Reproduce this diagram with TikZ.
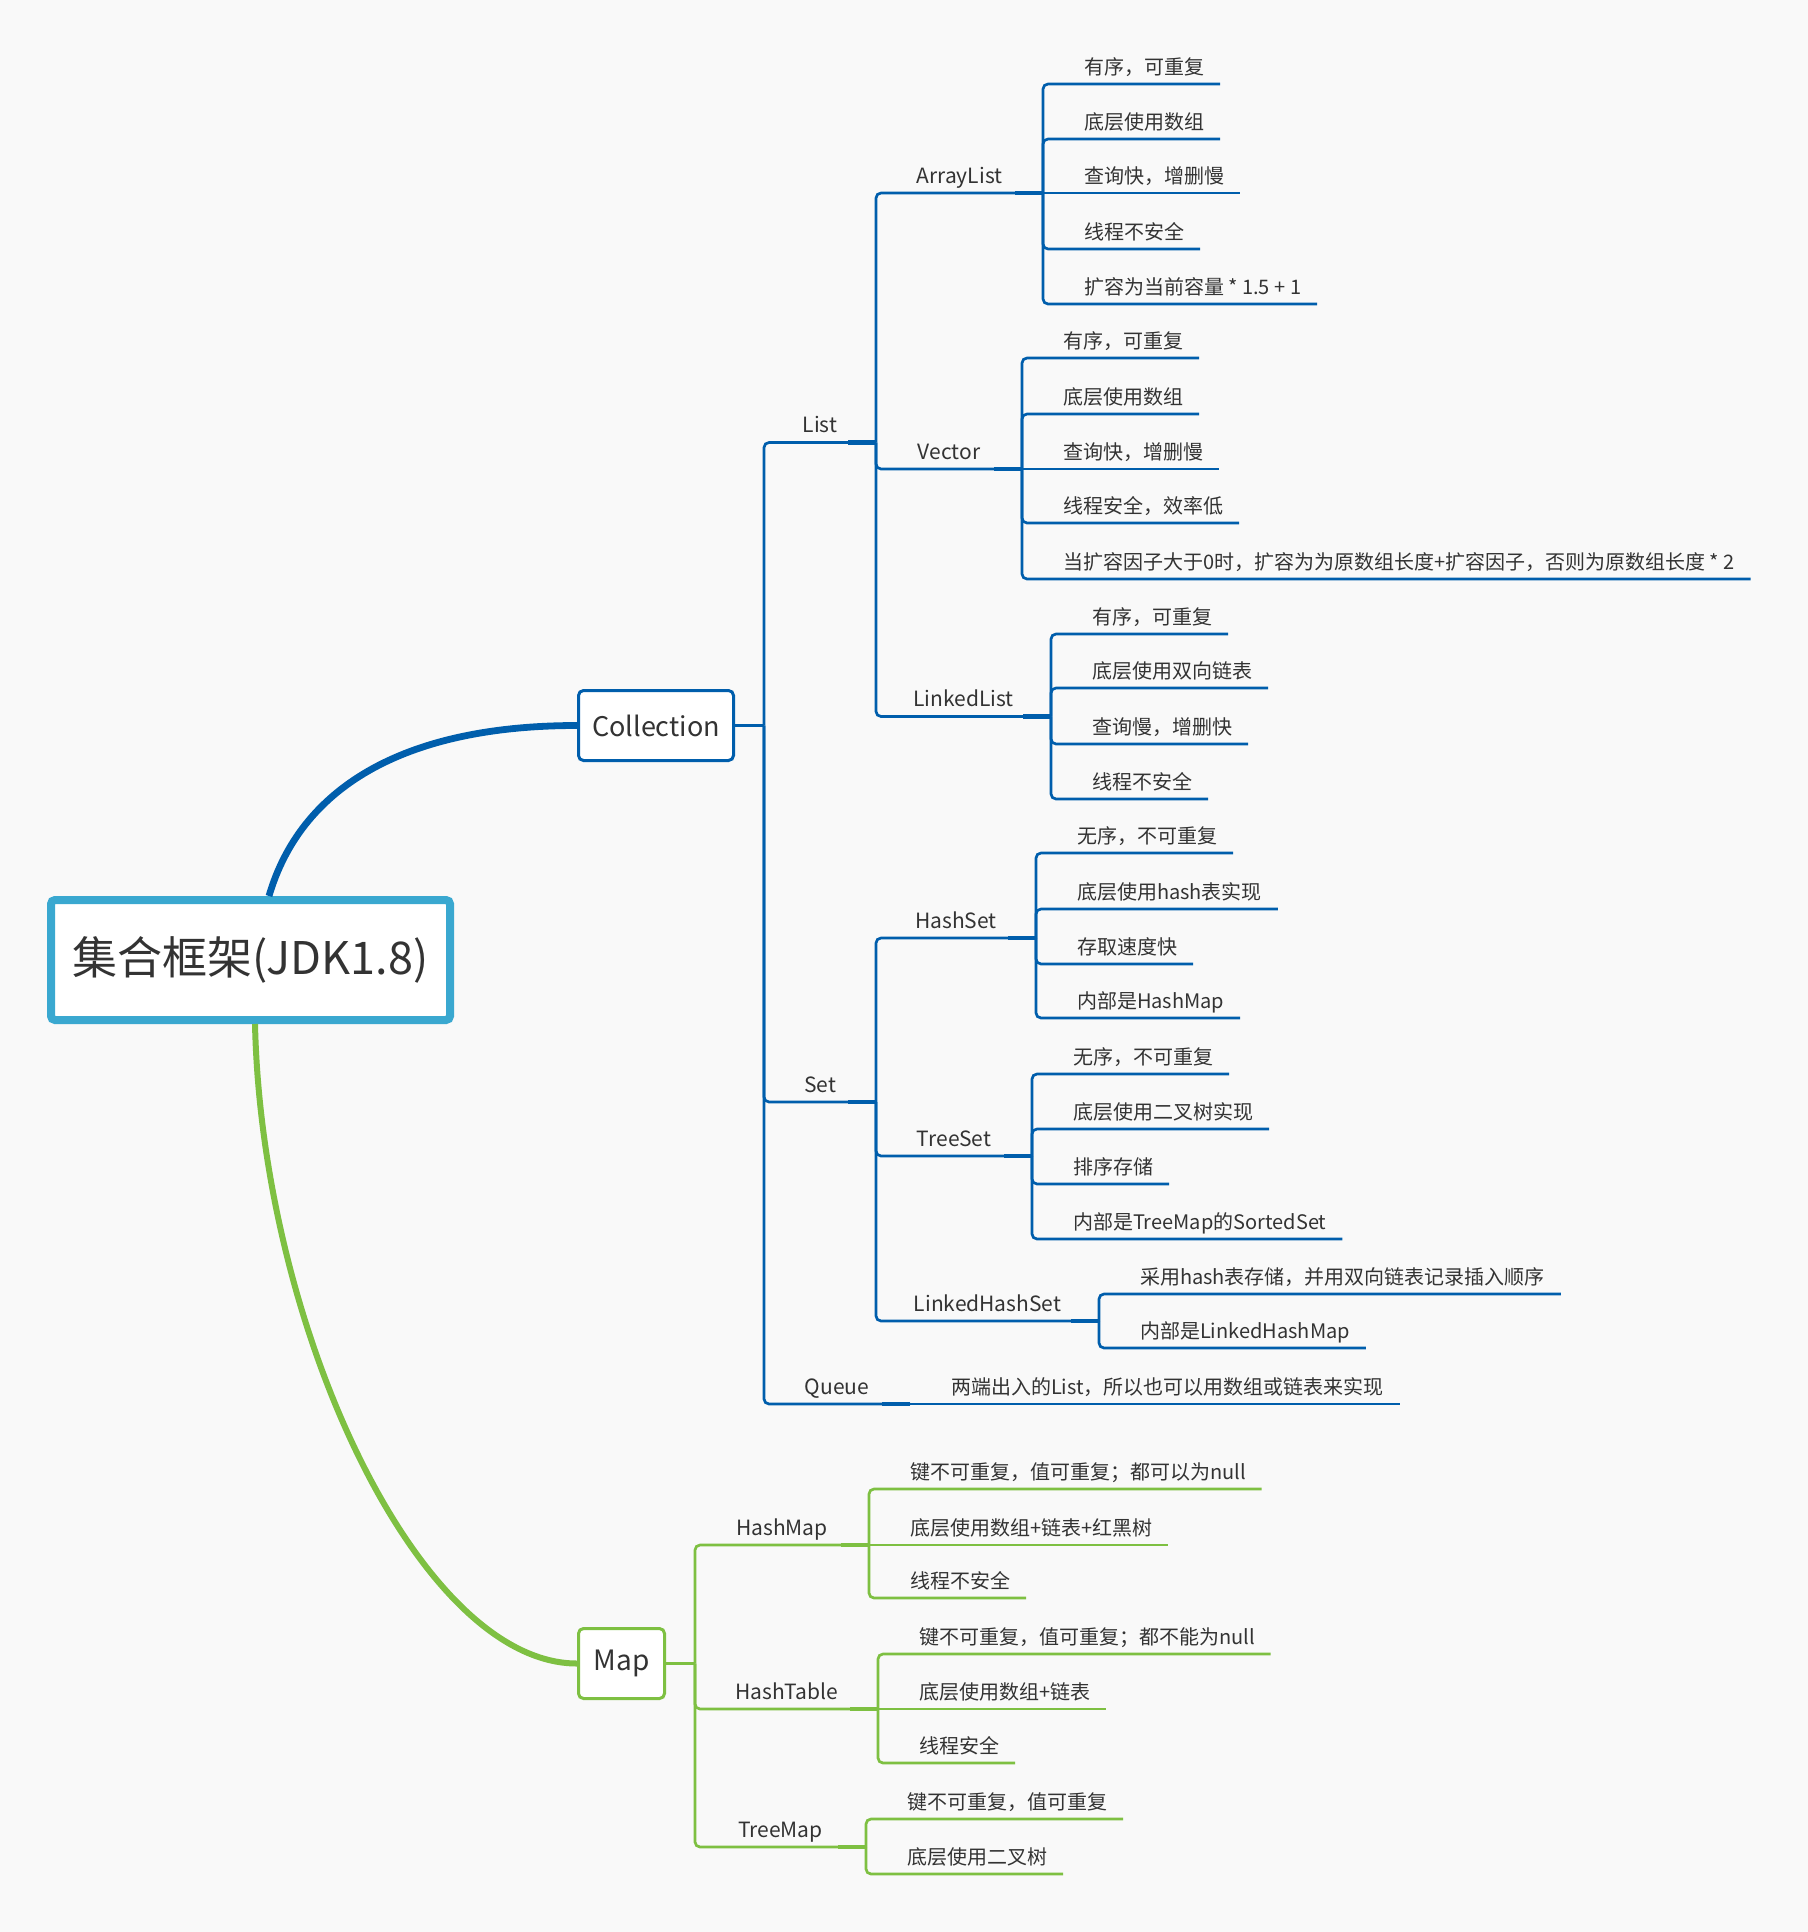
\documentclass[tikz,border=0pt]{standalone}
\usepackage{fontspec}
\setmainfont{Noto Sans CJK SC}
\usepackage{xcolor}
\usepackage{tikz}

\definecolor{paper}{RGB}{249,249,249}
\definecolor{ink}{RGB}{51,51,51}
\definecolor{rootcyan}{RGB}{58,168,208}
\definecolor{collblue}{RGB}{0,94,172}
\definecolor{mapgreen}{RGB}{126,192,66}

\begin{document}
\begin{tikzpicture}[
  x=0.5pt, y=-0.5pt,
  every node/.style={text=ink, outer sep=0pt},
  topic/.style={anchor=south west, inner xsep=0pt, inner ysep=2.2pt,
                text height=7.8pt, text depth=2.6pt, font=\fontsize{10.5}{12}\selectfont},
  leaf/.style={anchor=south west, inner xsep=8pt, inner ysep=2.2pt,
               text height=7.8pt, text depth=2.6pt, font=\fontsize{10}{12}\selectfont},
  bline/.style={draw=collblue, line width=1.35pt, rounded corners=2.5pt},
  gline/.style={draw=mapgreen, line width=1.35pt, rounded corners=2.5pt},
  stub/.style={line width=2.2pt},
]

\fill[paper] (0,0) rectangle (1808,1932);
\useasboundingbox (0,0) rectangle (1808,1932);

%% ── Main nodes ─────────────────────────────────────────────────────────────
\node[draw=rootcyan, line width=4pt, fill=white, rounded corners=2pt,
      minimum width=199.5pt, minimum height=60pt, outer sep=2pt,
      font=\fontsize{22.5}{27}\selectfont] (root) at (250.5, 960) {集合框架(JDK1.8)};
\node[draw=collblue, line width=1.5pt, fill=white, rounded corners=2.5pt,
      minimum width=77.5pt, minimum height=35pt, outer sep=0.75pt,
      font=\fontsize{13.5}{16}\selectfont] (collection) at (656, 725.5) {Collection};
\node[draw=mapgreen, line width=1.5pt, fill=white, rounded corners=2.5pt,
      minimum width=43pt, minimum height=35pt, outer sep=0.75pt,
      font=\fontsize{14}{16}\selectfont] (map) at (621.5, 1663.5) {Map};

%% main branches
\draw[collblue, line width=3.4pt] ([xshift=9.25pt]root.north)
  .. controls (300, 790) and (400, 725.5) .. (collection.west);
\draw[mapgreen, line width=3pt] ([xshift=2.25pt]root.south)
  .. controls (262, 1330) and (420, 1663.5) .. (map.west);

\coordinate (cj) at (764, 725.5);
\coordinate (mj) at (695, 1663.5);

%% ── Collection: second level ───────────────────────────────────────────────
\node[topic, minimum width=56pt] (list) at (764, 442.5) {List};
\node[topic, minimum width=56pt] (set) at (764, 1102) {Set};
\node[topic, minimum width=73pt] (queue) at (764, 1404) {Queue};

\draw[bline] (collection.east) -- (cj);
\draw[bline] (cj) |- (list.south east);
\draw[bline] (cj) |- (set.south east);
\draw[bline] (cj) |- (queue.south east);

%% List
\node[topic, minimum width=83.5pt] (arraylist) at (876, 193) {ArrayList};
\node[topic, minimum width=73pt] (vector) at (876, 469) {Vector};
\node[topic, minimum width=87.5pt] (linkedlist) at (876, 716.5) {LinkedList};
\draw[bline] (list.south east) |- (arraylist.south east);
\draw[bline] (list.south east) |- (vector.south east);
\draw[bline] (list.south east) |- (linkedlist.south east);

%% Set
\node[topic, minimum width=80pt] (hashset) at (876, 938) {HashSet};
\node[topic, minimum width=78pt] (treeset) at (876, 1156) {TreeSet};
\node[topic, minimum width=111.5pt] (linkedhashset) at (876, 1321) {LinkedHashSet};
\draw[bline] (set.south east) |- (hashset.south east);
\draw[bline] (set.south east) |- (treeset.south east);
\draw[bline] (set.south east) |- (linkedhashset.south east);

%% ── ArrayList ──────────────────────────────────────────────────────────────
\node[leaf] (al1) at (1068, 84) {有序，可重复};
\node[leaf] (al2) at (1068, 139) {底层使用数组};
\node[leaf] (al3) at (1068, 193) {查询快，增删慢};
\node[leaf] (al4) at (1068, 249) {线程不安全};
\node[leaf] (al5) at (1068, 304) {扩容为当前容量 * 1.5 + 1};
\draw[bline] (arraylist.south east) |- (al1.south east);
\draw[bline] (arraylist.south east) |- (al2.south east);
\draw[bline] (arraylist.south east) -- (al3.south east);
\draw[bline] (arraylist.south east) |- (al4.south east);
\draw[bline] (arraylist.south east) |- (al5.south east);

%% ── Vector ─────────────────────────────────────────────────────────────────
\node[leaf] (vc1) at (1047, 358) {有序，可重复};
\node[leaf] (vc2) at (1047, 414) {底层使用数组};
\node[leaf] (vc3) at (1047, 469) {查询快，增删慢};
\node[leaf] (vc4) at (1047, 523) {线程安全，效率低};
\node[leaf] (vc5) at (1047, 579) {当扩容因子大于0时，扩容为为原数组长度+扩容因子，否则为原数组长度 * 2};
\draw[bline] (vector.south east) |- (vc1.south east);
\draw[bline] (vector.south east) |- (vc2.south east);
\draw[bline] (vector.south east) -- (vc3.south east);
\draw[bline] (vector.south east) |- (vc4.south east);
\draw[bline] (vector.south east) |- (vc5.south east);

%% ── LinkedList ─────────────────────────────────────────────────────────────
\node[leaf] (ll1) at (1076, 634) {有序，可重复};
\node[leaf] (ll2) at (1076, 688) {底层使用双向链表};
\node[leaf] (ll3) at (1076, 744) {查询慢，增删快};
\node[leaf] (ll4) at (1076, 799) {线程不安全};
\draw[bline] (linkedlist.south east) |- (ll1.south east);
\draw[bline] (linkedlist.south east) |- (ll2.south east);
\draw[bline] (linkedlist.south east) |- (ll3.south east);
\draw[bline] (linkedlist.south east) |- (ll4.south east);

%% ── HashSet ────────────────────────────────────────────────────────────────
\node[leaf] (hs1) at (1061, 853) {无序，不可重复};
\node[leaf] (hs2) at (1061, 909) {底层使用hash表实现};
\node[leaf] (hs3) at (1061, 964) {存取速度快};
\node[leaf] (hs4) at (1061, 1018) {内部是HashMap};
\draw[bline] (hashset.south east) |- (hs1.south east);
\draw[bline] (hashset.south east) |- (hs2.south east);
\draw[bline] (hashset.south east) |- (hs3.south east);
\draw[bline] (hashset.south east) |- (hs4.south east);

%% ── TreeSet ────────────────────────────────────────────────────────────────
\node[leaf] (ts1) at (1057, 1074) {无序，不可重复};
\node[leaf] (ts2) at (1057, 1129) {底层使用二叉树实现};
\node[leaf] (ts3) at (1057, 1184) {排序存储};
\node[leaf] (ts4) at (1057, 1239) {内部是TreeMap的SortedSet};
\draw[bline] (treeset.south east) |- (ts1.south east);
\draw[bline] (treeset.south east) |- (ts2.south east);
\draw[bline] (treeset.south east) |- (ts3.south east);
\draw[bline] (treeset.south east) |- (ts4.south east);

%% ── LinkedHashSet ──────────────────────────────────────────────────────────
\node[leaf] (lh1) at (1124, 1294) {采用hash表存储，并用双向链表记录插入顺序};
\node[leaf] (lh2) at (1124, 1348) {内部是LinkedHashMap};
\draw[bline] (linkedhashset.south east) |- (lh1.south east);
\draw[bline] (linkedhashset.south east) |- (lh2.south east);

%% ── Queue ──────────────────────────────────────────────────────────────────
\node[leaf] (qu1) at (935, 1404) {两端出入的List，所以也可以用数组或链表来实现};
\draw[bline] (queue.south east) -- (qu1.south east);

\foreach \n in {list,set,queue,arraylist,vector,linkedlist,hashset,treeset,linkedhashset}
  \draw[bline, stub] ([xshift=-14pt]\n.south east) -- (\n.south east);

%% ── Map: second level ──────────────────────────────────────────────────────
\node[topic, minimum width=87pt] (hashmap) at (695, 1545) {HashMap};
\node[topic, minimum width=91.5pt] (hashtable) at (695, 1709) {HashTable};
\node[topic, minimum width=85.5pt] (treemap) at (695, 1847) {TreeMap};

\draw[gline] (map.east) -- (mj);
\draw[gline] (mj) |- (hashmap.south east);
\draw[gline] (mj) |- (hashtable.south east);
\draw[gline] (mj) |- (treemap.south east);

%% HashMap
\node[leaf] (hm1) at (894, 1489) {键不可重复，值可重复；都可以为null};
\node[leaf] (hm2) at (894, 1545) {底层使用数组+链表+红黑树};
\node[leaf] (hm3) at (894, 1598) {线程不安全};
\draw[gline] (hashmap.south east) |- (hm1.south east);
\draw[gline] (hashmap.south east) -- (hm2.south east);
\draw[gline] (hashmap.south east) |- (hm3.south east);

%% HashTable
\node[leaf] (ht1) at (903, 1654) {键不可重复，值可重复；都不能为null};
\node[leaf] (ht2) at (903, 1709) {底层使用数组+链表};
\node[leaf] (ht3) at (903, 1763) {线程安全};
\draw[gline] (hashtable.south east) |- (ht1.south east);
\draw[gline] (hashtable.south east) -- (ht2.south east);
\draw[gline] (hashtable.south east) |- (ht3.south east);

%% TreeMap
\node[leaf] (tm1) at (891, 1819) {键不可重复，值可重复};
\node[leaf] (tm2) at (891, 1874) {底层使用二叉树};
\draw[gline] (treemap.south east) |- (tm1.south east);
\draw[gline] (treemap.south east) |- (tm2.south east);

\foreach \n in {hashmap,hashtable,treemap}
  \draw[gline, stub] ([xshift=-14pt]\n.south east) -- (\n.south east);

\end{tikzpicture}
\end{document}
